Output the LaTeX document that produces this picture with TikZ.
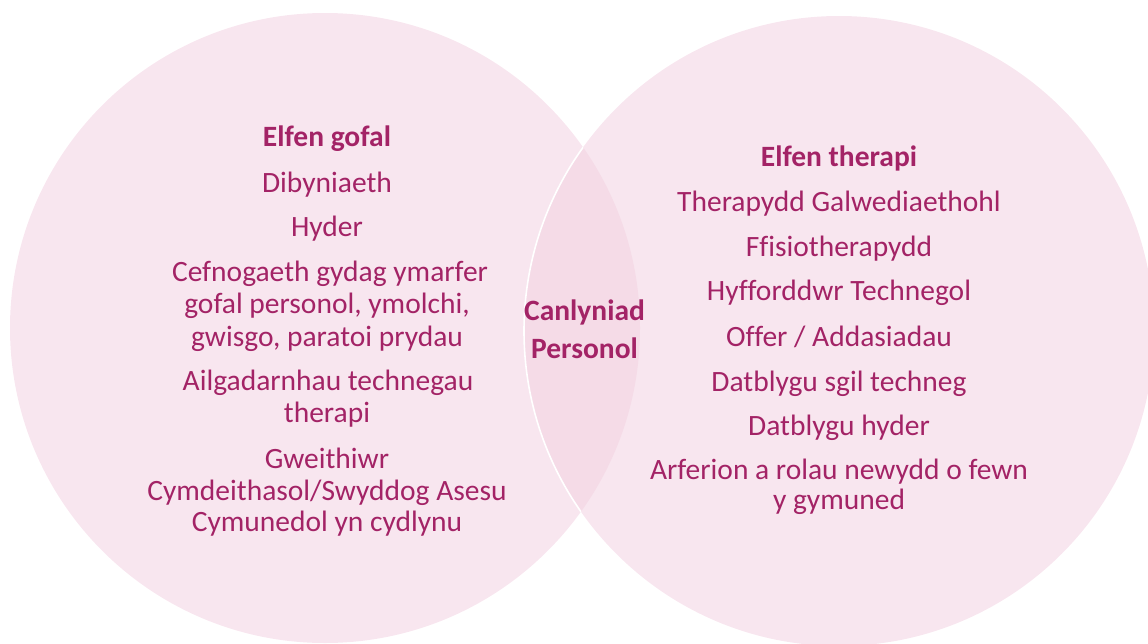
\documentclass[tikz,border=0pt]{standalone}
\usepackage{fontspec}
\setmainfont{Carlito}[Ligatures=NoCommon]
\definecolor{pinkfill}{HTML}{F8E6EF}
\definecolor{lensfill}{HTML}{F5DBE7}
\definecolor{plum}{RGB}{163,35,102}
\begin{document}
\begin{tikzpicture}[x=1pt,y=-1pt,
  txt/.style={anchor=base,inner sep=0pt,text=plum,font=\fontsize{29.5}{32}\selectfont},
  hdr/.style={txt,font=\fontsize{29.5}{32}\selectfont\bfseries}]
\useasboundingbox (0,0) rectangle (1148,643);
\clip (0,0) rectangle (1148,643);
% circles
\coordinate (cl) at (325,328);
\coordinate (cr) at (839,331);
\fill[pinkfill] (cl) circle[radius=315];
\fill[pinkfill] (cr) circle[radius=315];
\begin{scope}
  \clip (cl) circle[radius=315];
  \fill[lensfill] (cr) circle[radius=315];
  \draw[white,line width=1.6pt] (cr) circle[radius=315];
\end{scope}
% left circle text
\node[hdr] (lh) at (327,146.7) {Elfen gofal};
\node[txt] (l1) at (327,192.7) {Dibyniaeth};
\node[txt] (l2) at (327,236.7) {Hyder};
\node[txt] (l3a) at (330,281.7) {Cefnogaeth gydag ymarfer};
\node[txt] (l3b) at (327,313.8) {gofal personol, ymolchi,};
\node[txt] (l3c) at (327,346) {gwisgo, paratoi prydau};
\node[txt] (l4a) at (328,390) {Ailgadarnhau technegau};
\node[txt] (l4b) at (327,422) {therapi};
\node[txt] (l5a) at (327,468.3) {Gweithiwr};
\node[txt] (l5b) at (327,500) {Cymdeithasol/Swyddog Asesu};
\node[txt] (l5c) at (327,531.7) {Cymunedol yn cydlynu};
% right circle text
\node[hdr] (rh) at (839,166) {Elfen therapi};
\node[txt] (r1) at (839,211) {Therapydd Galwediaethohl};
\node[txt] (r2) at (839,256) {Ffisiotherapydd};
\node[txt] (r3) at (839,300) {Hyfforddwr Technegol};
\node[txt] (r4) at (839,346) {Offer / Addasiadau};
\node[txt] (r5) at (839,391) {Datblygu sgil techneg};
\node[txt] (r6) at (839,435) {Datblygu hyder};
\node[txt] (r7a) at (839,479.3) {Arferion a rolau newydd o fewn};
\node[txt] (r7b) at (839,509.5) {y gymuned};
% centre text
\node[hdr] (ca) at (584.5,320) {Canlyniad};
\node[hdr] (cb) at (584.5,358) {Personol};
\end{tikzpicture}
\end{document}
